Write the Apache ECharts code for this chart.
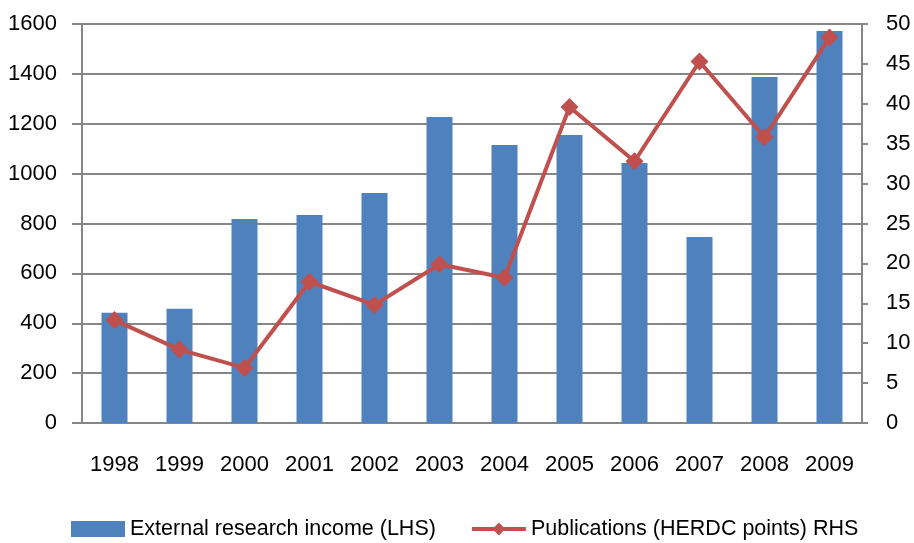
<!DOCTYPE html>
<html>
<head>
<meta charset="utf-8">
<script src="https://cdn.jsdelivr.net/npm/echarts@6/dist/echarts.min.js"></script>
<style>
    html, body { margin: 0; padding: 0; background: #fff; }
    #chart { width: 914px; height: 543px; }
</style>
</head>
<body>
<div id="chart"></div>
<script>
    // data
    var years = ['1998', '1999', '2000', '2001', '2002', '2003', '2004', '2005', '2006', '2007', '2008', '2009'];
    var income = [442, 458, 818, 834, 922, 1227, 1115, 1155, 1043, 746, 1387, 1572];
    var publications = [12.9, 9.2, 6.9, 17.7, 14.8, 19.9, 18.2, 39.6, 32.8, 45.3, 35.8, 48.3];
    var incomeName = 'External research income (LHS)';
    var pubName = 'Publications (HERDC points) RHS';

    var font = "'Liberation Sans Narrow', 'Arial Narrow', 'Liberation Sans', sans-serif";
    var gray = '#868686';
    var red = '#C0504D';

    var chart = echarts.init(document.getElementById('chart'));
    var option = {
        backgroundColor: '#fff',
        animation: false,
        textStyle: { fontFamily: font },
        grid: { left: 82, right: 52, top: 24, bottom: 120 },
        legend: {
            bottom: -2,
            left: 66,
            itemWidth: 54,
            itemHeight: 16,
            itemGap: 34,
            textStyle: { fontFamily: font, fontSize: 21.5, color: '#000' },
            data: [
                { name: incomeName, icon: 'rect', itemStyle: { color: '#4F81BD' } },
                { name: pubName, lineStyle: { color: red, width: 4 }, itemStyle: { color: red } }
            ]
        },
        xAxis: {
            type: 'category',
            data: years,
            axisLine: { lineStyle: { color: gray, width: 2 } },
            axisTick: { length: 9, lineStyle: { color: gray, width: 2 } },
            axisLabel: { color: '#000', fontSize: 22, margin: 31, fontFamily: font }
        },
        yAxis: [{
            type: 'value',
            min: 0,
            max: 1600,
            interval: 200,
            axisLine: { show: true, lineStyle: { color: gray, width: 2 } },
            axisTick: { show: true, length: 10, lineStyle: { color: gray, width: 2 } },
            splitLine: { lineStyle: { color: gray, width: 2 } },
            axisLabel: {
                color: '#000', fontSize: 22, margin: 25, fontFamily: font,
                formatter: function (v) { return String(v); }
            }
        }, {
            type: 'value',
            min: 0,
            max: 50,
            interval: 5,
            axisLine: { show: true, lineStyle: { color: gray, width: 2 } },
            axisTick: { show: true, length: 6, lineStyle: { color: gray, width: 2 } },
            splitLine: { show: false },
            axisLabel: { color: '#000', fontSize: 22, margin: 24, fontFamily: font }
        }],
        series: [{
            name: incomeName,
            type: 'bar',
            data: income,
            barWidth: '40%',
            itemStyle: { color: '#4F81BD' }
        }, {
            name: pubName,
            type: 'line',
            yAxisIndex: 1,
            data: publications,
            symbol: 'diamond',
            symbolSize: 18,
            lineStyle: { color: red, width: 4 },
            itemStyle: { color: red }
        }]
    };
    chart.setOption(option);
</script>
</body>
</html>
